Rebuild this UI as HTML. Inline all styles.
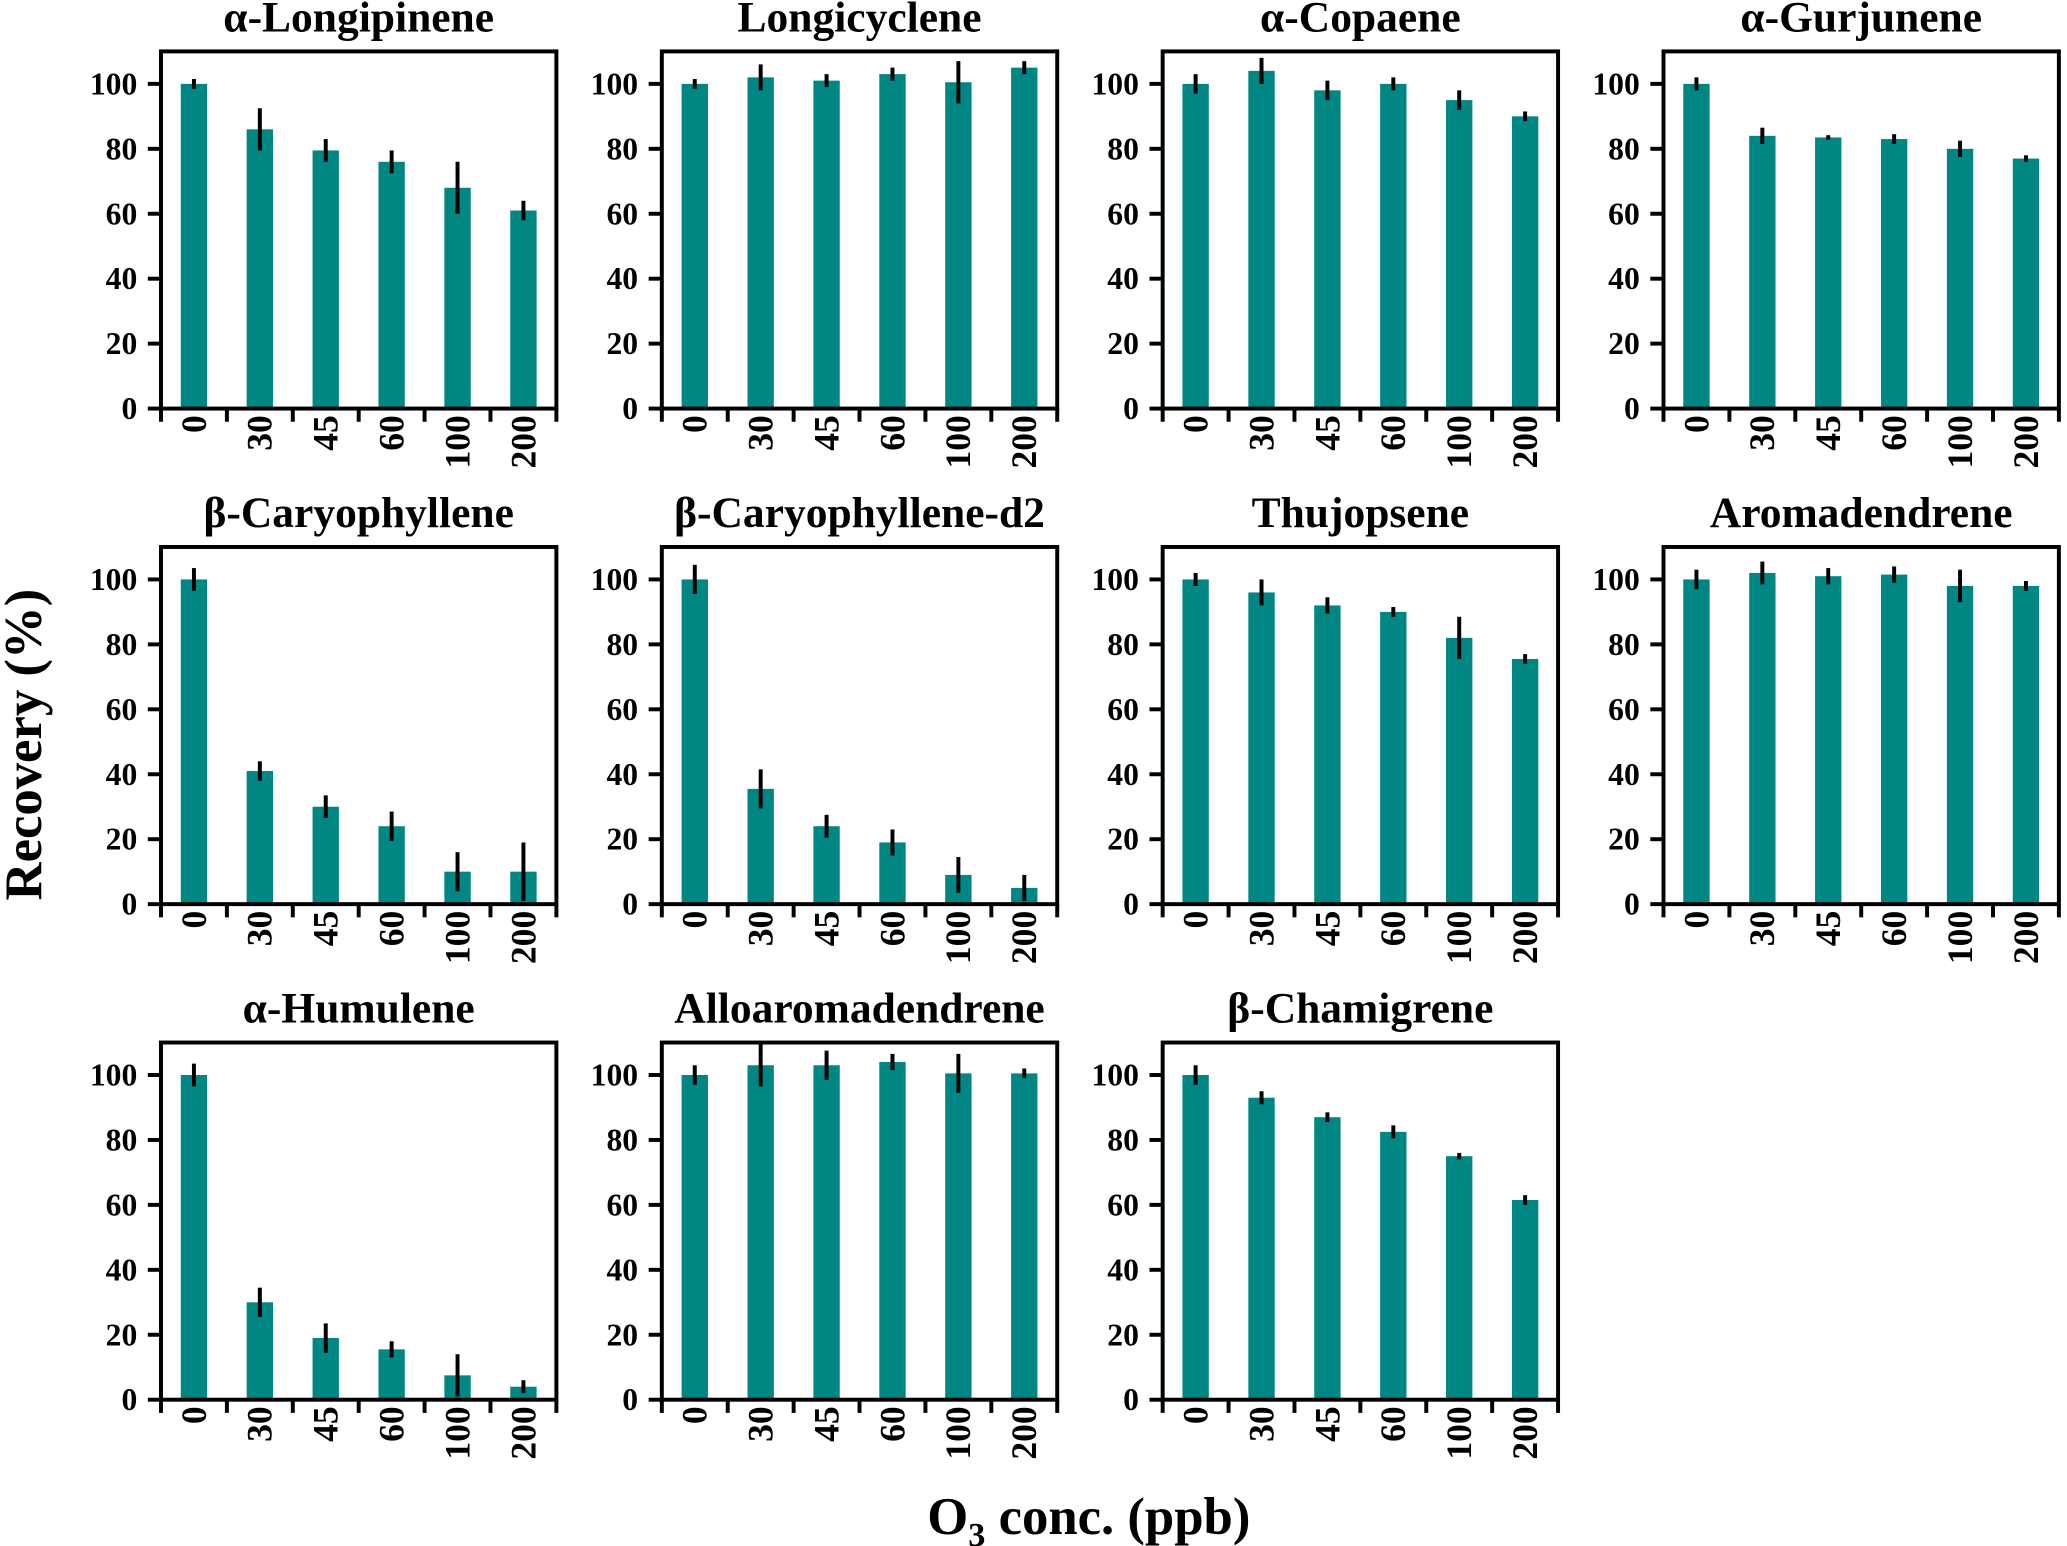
<!DOCTYPE html>
<html><head><meta charset="utf-8"><style>
html,body{margin:0;padding:0;background:#fff}
svg{display:block}
text{font-family:"Liberation Serif",serif;font-weight:bold;fill:#000}
</style></head><body>
<svg id="fig" width="2067" height="1546" viewBox="0 0 1568 1173" xmlns="http://www.w3.org/2000/svg">
<text x="0" y="0" font-size="40" text-anchor="middle" transform="translate(31,565) rotate(-90)">Recovery (%)</text>
<text x="826" y="1164" font-size="40" text-anchor="middle">O<tspan font-size="26" dy="9">3</tspan><tspan dy="-9"> conc. (ppb)</tspan></text>
</svg>
<script>
const categories = ["0","30","45","60","100","200"];
const yTicks = [0,20,40,60,80,100];
const titles = ["α-Longipinene","Longicyclene","α-Copaene","α-Gurjunene","β-Caryophyllene","β-Caryophyllene-d2","Thujopsene","Aromadendrene","α-Humulene","Alloaromadendrene","β-Chamigrene"];
const values = [
 [100,86,79.5,76,68,61],
 [100,102,101,103,100.5,105],
 [100,104,98,100,95,90],
 [100,84,83.5,83,80,77],
 [100,41,30,24,10,10],
 [100,35.5,24,19,9,5],
 [100,96,92,90,82,75.5],
 [100,102,101,101.5,98,98],
 [100,30,19,15.5,7.5,4],
 [100,103,103,104,100.5,100.5],
 [100,93,87,82.5,75,61.5]
];
const errors = [
 [1.5,6.5,3.5,3.5,8,3],
 [1.5,4,2,2,6.5,2],
 [3,4,3,2,3,1.5],
 [2,2.5,0.7,1.5,2.5,1],
 [3.5,3,3.5,4.5,6,9],
 [4.5,6,3.5,4,5.5,4],
 [2,4,2.5,1.5,6.5,1.5],
 [3,3.5,2.5,2.5,5,1.5],
 [3.5,4.5,4.5,2.5,6.5,2],
 [3,6.5,4.5,2.5,6,1.5],
 [3,2,1.5,2,1,1.5]
];
const NS="http://www.w3.org/2000/svg";
const svg=document.getElementById('fig');
function mk(tag,attrs,parent){const e=document.createElementNS(NS,tag);for(const k in attrs)e.setAttribute(k,attrs[k]);(parent||svg).appendChild(e);return e;}
const W=300, pitchX=380, x0=122;
const bottoms=[310,686,1062], H=271, yMax=110;
titles.forEach((t,i)=>{
  const col=i%4,row=Math.floor(i/4);
  const L=x0+col*pitchX, B=bottoms[row], T=B-H;
  const g=mk('g',{});
  
  
  const ys=v=>B-v/yMax*H;
  const band=W/categories.length;
  const xs=j=>L+band*(j+0.5);
  const tt=mk('text',{x:L+W/2,y:T-15,'font-size':33,'text-anchor':'middle'},g);
  tt.textContent=t;
  
  
  values[i].forEach((v,j)=>{
    const r=mk('rect',{x:xs(j)-10,y:ys(v),width:20,height:B-ys(v),fill:'#008784'},g);
    
    
    const e=errors[i][j];
    const l=mk('line',{x1:xs(j),x2:xs(j),y1:ys(v+e),y2:ys(Math.max(0,v-e)),stroke:'#000','stroke-width':3},g);
    
    
  });
  const fr=mk('rect',{x:L,y:T,width:W,height:H,fill:'none',stroke:'#000','stroke-width':3},g);
  
  
  yTicks.forEach(v=>{
    mk('line',{x1:L-10,x2:L,y1:ys(v),y2:ys(v),stroke:'#000','stroke-width':3},g);
    const lb=mk('text',{x:L-18,y:ys(v)+8,'font-size':24,'text-anchor':'end'},g);
    lb.textContent=v;
    
    
  });
  for(let j=0;j<=categories.length;j++){
    mk('line',{x1:L+band*j,x2:L+band*j,y1:B,y2:B+10,stroke:'#000','stroke-width':3},g);
  }
  categories.forEach((c,j)=>{
    const lb=mk('text',{x:0,y:0,'font-size':27,'text-anchor':'end',transform:`translate(${xs(j)+9},${B+5}) rotate(-90)`},g);
    lb.textContent=c;
    
    
  });
});
</script>
</body></html>
